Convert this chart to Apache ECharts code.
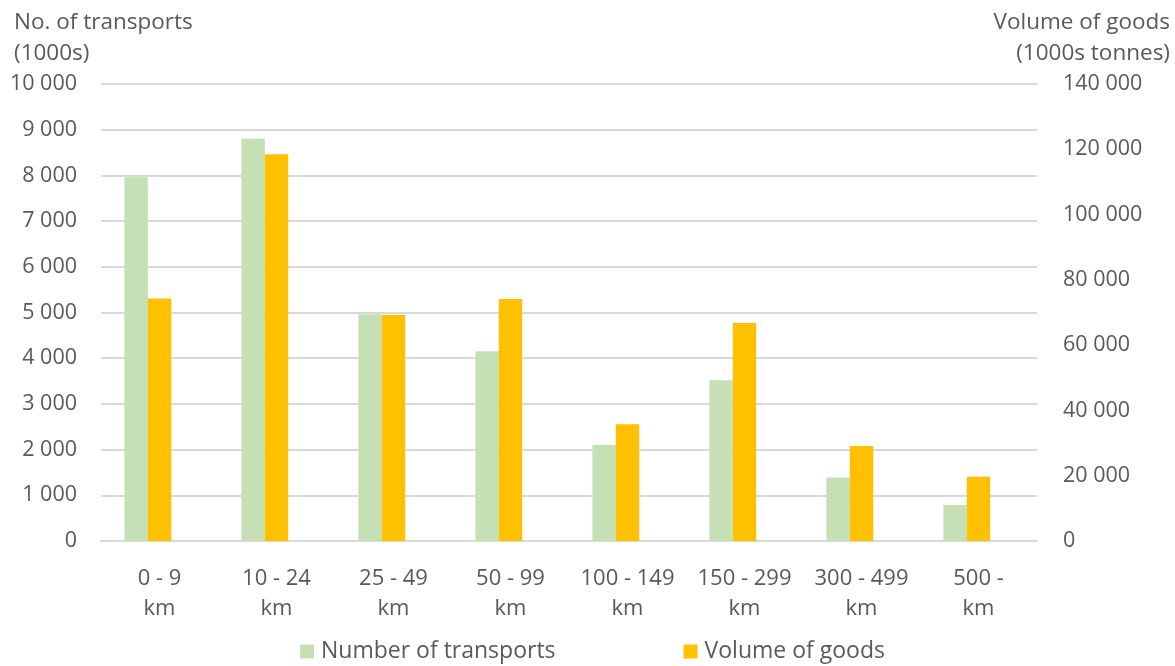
<!DOCTYPE html>
<html>
<head>
<meta charset="utf-8">
<script src="https://cdn.jsdelivr.net/npm/echarts@6/dist/echarts.min.js"></script>
<style>
  html, body { margin: 0; padding: 0; background: #fff; }
  #chart { width: 1175px; height: 666px; }
</style>
</head>
<body>
<div id="chart"></div>
<script>
// Distance bands
const categories = ['0 - 9\nkm', '10 - 24\nkm', '25 - 49\nkm', '50 - 99\nkm',
  '100 - 149\nkm', '150 - 299\nkm', '300 - 499\nkm', '500 -\nkm'];

// Number of transports (1000s) – left axis
const transports = [7960, 8800, 4960, 4150, 2100, 3520, 1390, 790];

// Volume of goods (1000s tonnes) – right axis
const volume = [74300, 118500, 69200, 74100, 35800, 66800, 29100, 19700];

// Empty third slot in each cluster (keeps the pair left of the label centre)
const spacer = categories.map(() => null);

const leftTicks = { min: 0, max: 10000, interval: 1000 };
const rightTicks = { min: 0, max: 140000, interval: 20000 };

const FONT = '"Open Sans", "Liberation Sans", sans-serif';
const GREY = '#595959';
const GRID = '#d9d9d9';

// 10000 -> "10 000"
const spaced = v => String(v).replace(/\B(?=(\d{3})+(?!\d))/g, ' ');

const chart = echarts.init(document.getElementById('chart'));
chart.setOption({
  animation: false,
  textStyle: { fontFamily: FONT },
  grid: { left: 101, right: 138, top: 84, bottom: 125, containLabel: false },
  legend: {
    data: ['Number of transports', 'Volume of goods'],
    left: 295,
    top: 635,
    itemWidth: 14,
    itemHeight: 14,
    itemGap: 128,
    icon: 'rect',
    textStyle: { fontFamily: FONT, fontSize: 23, color: GREY, padding: [0, 0, 0, 2] }
  },
  xAxis: {
    type: 'category',
    data: categories,
    axisLine: { lineStyle: { color: GRID, width: 2 } },
    axisTick: { show: false },
    axisLabel: {
      fontFamily: FONT, fontSize: 22, color: GREY,
      lineHeight: 30, margin: 23, interval: 0
    }
  },
  yAxis: [
    {
      type: 'value',
      position: 'left',
      min: leftTicks.min, max: leftTicks.max, interval: leftTicks.interval,
      name: 'No. of transports\n(1000s)',
      nameLocation: 'end',
      nameGap: 15,
      nameTextStyle: {
        fontFamily: FONT, fontSize: 22.5, color: GREY, lineHeight: 31,
        align: 'left', padding: [0, 0, 0, -87]
      },
      axisLine: { show: false },
      axisTick: { show: false },
      splitLine: { lineStyle: { color: GRID, width: 2 } },
      axisLabel: {
        fontFamily: FONT, fontSize: 21.5, color: GREY, margin: 24,
        formatter: spaced
      }
    },
    {
      type: 'value',
      position: 'right',
      min: rightTicks.min, max: rightTicks.max, interval: rightTicks.interval,
      name: 'Volume of goods\n(1000s tonnes)',
      nameLocation: 'end',
      nameGap: 15,
      nameTextStyle: {
        fontFamily: FONT, fontSize: 22.5, color: GREY, lineHeight: 31,
        align: 'right', padding: [0, -133, 0, 0]
      },
      axisLine: { show: false },
      axisTick: { show: false },
      splitLine: { show: false },
      axisLabel: {
        fontFamily: FONT, fontSize: 21.5, color: GREY, margin: 26,
        formatter: spaced
      }
    }
  ],
  series: [
    {
      name: 'Number of transports',
      type: 'bar',
      yAxisIndex: 0,
      data: transports,
      barGap: '0%',
      barCategoryGap: '40%',
      itemStyle: { color: '#C5E0B4' }
    },
    {
      name: 'Volume of goods',
      type: 'bar',
      yAxisIndex: 1,
      data: volume,
      itemStyle: { color: '#FFC000' }
    },
    {
      id: 'gap',
      type: 'bar',
      yAxisIndex: 0,
      data: spacer,
      silent: true
    }
  ]
});
</script>
</body>
</html>
